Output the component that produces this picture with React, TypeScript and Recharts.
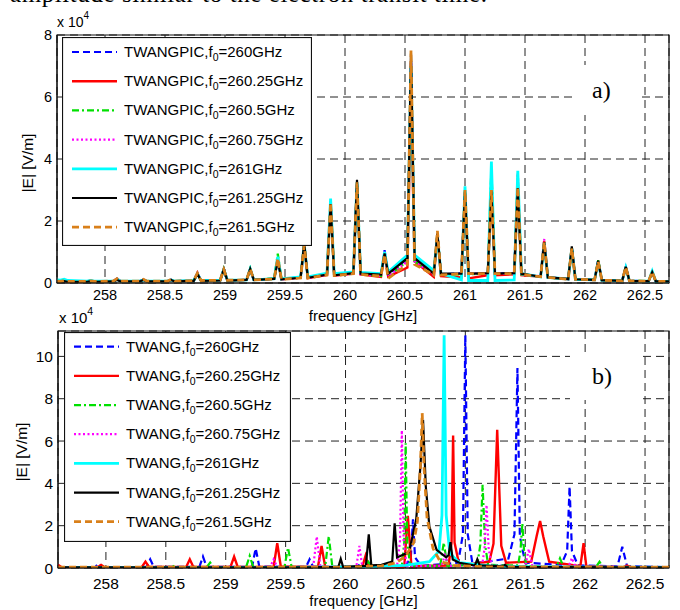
import React from 'react';
import { LineChart, Line, XAxis, YAxis, CartesianGrid, Legend, ReferenceArea } from 'recharts';

// ---------------- data ----------------
const freqTicks = [258, 258.5, 259, 259.5, 260, 260.5, 261, 261.5, 262, 262.5];
const eTicksA = [0, 2, 4, 6, 8];
const eTicksB = [0, 2, 4, 6, 8, 10];
const f0Labels = ['260', '260.25', '260.5', '260.75', '261', '261.25', '261.5'];

// panel a) frequency grid (GHz), values in 1e4 V/m
const freqPic = [257.6,
  257.63, 257.66, 257.69, 257.85, 257.88, 257.91, 258.07, 258.10, 258.13,
  258.29, 258.32, 258.35, 258.52, 258.55, 258.58, 258.74, 258.77, 258.80,
  258.96, 258.99, 259.02, 259.18, 259.21, 259.24, 259.41, 259.44, 259.47,
  259.63, 259.66, 259.69, 259.85, 259.88, 259.91, 260.07, 260.10, 260.13,
  260.30, 260.33, 260.36, 260.52, 260.55, 260.58, 260.74, 260.77, 260.80,
  260.97, 261.00, 261.03, 261.19, 261.22, 261.25, 261.41, 261.44, 261.47,
  261.63, 261.66, 261.69, 261.86, 261.89, 261.92, 262.08, 262.11, 262.14,
  262.31, 262.34, 262.37, 262.53, 262.56, 262.59,
  262.7];

const pic260 = [0.08,
  0.07, 0.1, 0.06, 0.05, 0.08, 0.05, 0.06, 0.14, 0.06,
  0.06, 0.1, 0.06, 0.06, 0.1, 0.06, 0.08, 0.3, 0.08,
  0.09, 0.45, 0.09, 0.1, 0.44, 0.1, 0.14, 0.8, 0.13,
  0.18, 1.2, 0.17, 0.28, 2.6, 0.26, 0.32, 3.2, 0.3,
  0.24, 1.06, 0.24, 0.8, 7.2, 0.8, 0.28, 1.55, 0.27,
  0.32, 2.95, 0.3, 0.32, 3.1, 0.3, 0.32, 3.2, 0.28,
  0.2, 1.3, 0.18, 0.13, 1.1, 0.12, 0.1, 0.7, 0.09,
  0.07, 0.5, 0.07, 0.06, 0.34, 0.05,
  0.05];
const pic26025 = [0.06,
  0.06, 0.09, 0.05, 0.05, 0.08, 0.05, 0.06, 0.13, 0.06,
  0.06, 0.11, 0.05, 0.05, 0.1, 0.05, 0.08, 0.31, 0.08,
  0.09, 0.44, 0.09, 0.1, 0.45, 0.1, 0.14, 0.82, 0.12,
  0.17, 1.22, 0.16, 0.26, 2.58, 0.24, 0.3, 3.18, 0.28,
  0.2, 0.95, 0.2, 0.5, 6.0, 0.7, 0.2, 1.55, 0.22,
  0.18, 2.9, 0.15, 0.25, 3.05, 0.25, 0.28, 3.15, 0.25,
  0.2, 1.36, 0.18, 0.12, 1.12, 0.12, 0.1, 0.72, 0.09,
  0.07, 0.52, 0.07, 0.06, 0.35, 0.05,
  0.05];
const pic2605 = [0.07,
  0.06, 0.1, 0.06, 0.05, 0.07, 0.05, 0.06, 0.13, 0.06,
  0.06, 0.1, 0.06, 0.06, 0.11, 0.06, 0.08, 0.3, 0.08,
  0.09, 0.46, 0.09, 0.1, 0.47, 0.1, 0.15, 0.95, 0.13,
  0.18, 1.25, 0.17, 0.27, 2.62, 0.25, 0.3, 3.2, 0.28,
  0.22, 0.98, 0.22, 0.7, 7.0, 0.7, 0.26, 1.58, 0.26,
  0.28, 2.98, 0.28, 0.3, 3.7, 0.3, 0.3, 3.5, 0.28,
  0.2, 1.32, 0.18, 0.12, 1.12, 0.12, 0.1, 0.74, 0.09,
  0.07, 0.52, 0.07, 0.06, 0.34, 0.05,
  0.05];
const pic26075 = [0.08,
  0.07, 0.11, 0.06, 0.05, 0.08, 0.05, 0.06, 0.14, 0.06,
  0.06, 0.12, 0.06, 0.06, 0.11, 0.06, 0.08, 0.34, 0.08,
  0.09, 0.45, 0.09, 0.1, 0.46, 0.1, 0.14, 0.78, 0.12,
  0.17, 1.22, 0.16, 0.27, 2.68, 0.25, 0.3, 3.22, 0.28,
  0.22, 1.0, 0.22, 0.7, 7.1, 0.7, 0.26, 1.6, 0.26,
  0.3, 3.0, 0.3, 0.3, 3.3, 0.3, 0.3, 3.55, 0.28,
  0.22, 1.42, 0.2, 0.12, 1.12, 0.12, 0.1, 0.72, 0.09,
  0.07, 0.5, 0.07, 0.06, 0.36, 0.05,
  0.05];
const pic261 = [0.1,
  0.09, 0.12, 0.08, 0.06, 0.08, 0.06, 0.06, 0.12, 0.06,
  0.06, 0.1, 0.06, 0.06, 0.1, 0.06, 0.08, 0.3, 0.08,
  0.09, 0.44, 0.09, 0.1, 0.45, 0.1, 0.14, 0.85, 0.13,
  0.2, 1.25, 0.2, 0.32, 2.72, 0.3, 0.36, 3.25, 0.34,
  0.3, 1.0, 0.35, 0.9, 7.0, 0.9, 0.4, 1.5, 0.3,
  0.1, 3.12, 0.08, 0.08, 3.92, 0.08, 0.1, 3.62, 0.3,
  0.2, 1.3, 0.18, 0.13, 1.12, 0.12, 0.1, 0.7, 0.09,
  0.07, 0.5, 0.07, 0.06, 0.38, 0.05,
  0.05];
const pic26125 = [0.04,
  0.04, 0.06, 0.04, 0.04, 0.06, 0.04, 0.05, 0.1, 0.05,
  0.05, 0.1, 0.05, 0.05, 0.1, 0.05, 0.07, 0.3, 0.07,
  0.08, 0.44, 0.08, 0.1, 0.45, 0.1, 0.13, 0.72, 0.12,
  0.17, 1.3, 0.17, 0.27, 2.55, 0.25, 0.32, 3.33, 0.3,
  0.27, 0.95, 0.3, 0.8, 7.4, 0.8, 0.3, 1.6, 0.3,
  0.3, 2.95, 0.3, 0.32, 2.98, 0.3, 0.32, 3.06, 0.3,
  0.2, 1.32, 0.18, 0.13, 1.18, 0.12, 0.1, 0.72, 0.09,
  0.07, 0.52, 0.07, 0.06, 0.35, 0.05,
  0.05];
const pic2615 = [0.06,
  0.05, 0.08, 0.05, 0.05, 0.07, 0.05, 0.06, 0.14, 0.06,
  0.06, 0.12, 0.06, 0.06, 0.12, 0.06, 0.08, 0.32, 0.08,
  0.09, 0.44, 0.09, 0.1, 0.46, 0.1, 0.13, 0.8, 0.12,
  0.16, 1.22, 0.16, 0.26, 2.6, 0.24, 0.3, 3.25, 0.28,
  0.22, 0.92, 0.15, 0.6, 7.5, 0.6, 0.26, 1.68, 0.26,
  0.3, 3.0, 0.3, 0.3, 3.0, 0.3, 0.3, 3.1, 0.28,
  0.2, 1.33, 0.18, 0.12, 1.12, 0.12, 0.1, 0.7, 0.09,
  0.07, 0.52, 0.07, 0.06, 0.36, 0.05,
  0.05];

// panel b) each series has its own frequency samples
const twang260F = [257.6, 257.91, 257.94, 257.97, 258.34, 258.37, 258.40, 258.78, 258.81, 258.84,
  259.22, 259.25, 259.28, 259.67, 259.70, 259.73, 260.10, 260.13, 260.16, 260.50, 260.545, 260.563,
  260.58, 260.63, 260.94, 260.98, 261.0, 261.02, 261.06, 261.36, 261.41, 261.435, 261.455, 261.50,
  261.80, 261.85, 261.87, 261.89, 261.94, 262.27, 262.31, 262.35, 262.7];
const twang260V = [0.04, 0.04, 0.22, 0.04, 0.05, 0.41, 0.05, 0.05, 0.54, 0.06,
  0.06, 0.93, 0.07, 0.05, 0.41, 0.05, 0.05, 0.25, 0.05, 0.08, 0.5, 2.3,
  0.5, 0.1, 0.25, 1.6, 11.0, 1.6, 0.2, 0.45, 1.6, 9.45, 1.5, 0.25,
  0.15, 0.8, 3.85, 0.8, 0.12, 0.08, 1.0, 0.08, 0.04];

const twang26025F = [257.6, 257.63, 257.93, 257.96, 257.99, 258.30, 258.33, 258.36, 258.67, 258.70,
  258.73, 259.04, 259.07, 259.10, 259.40, 259.43, 259.46, 259.77, 259.80, 259.83, 260.14, 260.167,
  260.19, 260.49, 260.52, 260.55, 260.86, 260.885, 260.898, 260.91, 260.95, 261.20, 261.235,
  261.266, 261.30, 261.34, 261.55, 261.595, 261.624, 261.65, 261.70, 261.96, 261.987, 262.01,
  262.32, 262.35, 262.38, 262.7];
const twang26025V = [0.15, 0.04, 0.04, 0.15, 0.04, 0.05, 0.3, 0.05, 0.05, 0.41,
  0.05, 0.05, 0.54, 0.05, 0.06, 1.17, 0.06, 0.06, 1.04, 0.06, 0.05, 0.57,
  0.05, 0.06, 2.46, 0.08, 0.12, 1.2, 6.26, 1.2, 0.12, 0.3, 1.15,
  6.53, 1.05, 0.25, 0.3, 1.5, 2.22, 1.5, 0.3, 0.08, 1.17, 0.08,
  0.04, 0.12, 0.04, 0.04];

const twang2605F = [257.6, 258.52, 258.55, 258.58, 258.84, 258.87, 258.90, 259.17, 259.20, 259.23,
  259.49, 259.52, 259.55, 259.83, 259.86, 259.89, 260.16, 260.19, 260.22, 260.47, 260.49, 260.502,
  260.515, 260.54, 260.79, 260.82, 260.85, 261.10, 261.125, 261.144, 261.165, 261.19, 261.44,
  261.46, 261.476, 261.49, 261.51, 261.76, 261.79, 261.82, 262.09, 262.12, 262.15, 262.7];
const twang2605V = [0.03, 0.03, 0.12, 0.03, 0.03, 0.26, 0.03, 0.04, 0.57, 0.04,
  0.04, 0.96, 0.04, 0.05, 1.5, 0.05, 0.05, 0.3, 0.05, 0.1, 1.2, 5.9,
  1.2, 0.1, 0.1, 1.2, 0.1, 0.15, 1.1, 3.93, 1.1, 0.15, 0.12,
  0.8, 2.11, 0.8, 0.1, 0.05, 0.46, 0.05, 0.04, 0.3, 0.04, 0.03];

const twang26075F = [257.6, 259.02, 259.05, 259.08, 259.37, 259.40, 259.43, 259.73, 259.76, 259.79,
  260.09, 260.116, 260.14, 260.43, 260.455, 260.47, 260.485, 260.51, 260.80, 260.83, 260.86,
  261.14, 261.16, 261.177, 261.195, 261.22, 261.50, 261.53, 261.56, 261.86, 261.89, 261.92,
  262.22, 262.25, 262.28, 262.7];
const twang26075V = [0.03, 0.03, 0.1, 0.03, 0.04, 0.41, 0.04, 0.05, 1.48, 0.05,
  0.05, 1.04, 0.05, 0.1, 1.3, 6.5, 1.3, 0.1, 0.1, 0.6, 0.1,
  0.12, 0.9, 2.98, 0.9, 0.12, 0.08, 0.9, 0.08, 0.05, 0.47, 0.05,
  0.03, 0.12, 0.03, 0.03];

const twang261F = [257.6, 259.5, 260.2, 260.5, 260.7, 260.78, 260.805, 260.823, 260.84, 260.87, 260.95, 261.2, 261.6, 262.7];
const twang261V = [0.02, 0.03, 0.06, 0.12, 0.3, 0.8, 2.5, 11.0, 2.5, 0.7, 0.25, 0.1, 0.05, 0.03];

const twang26125F = [257.6, 259.7, 259.94, 259.96, 259.98, 260.17, 260.194, 260.215, 260.30, 260.39,
  260.41, 260.43, 260.53, 260.59, 260.625, 260.647, 260.67, 260.70, 260.76, 260.84,
  260.86, 260.876, 260.895, 260.95, 261.08, 261.10, 261.12, 261.31, 261.33, 261.35,
  261.6, 262.7];
const twang26125V = [0.03, 0.03, 0.05, 0.43, 0.05, 0.1, 1.59, 0.12, 0.15, 0.3,
  2.11, 0.5, 0.75, 2.3, 4.8, 7.0, 3.85, 1.96, 0.86, 0.5,
  0.6, 1.22, 0.4, 0.25, 0.12, 0.41, 0.12, 0.08, 0.15, 0.06,
  0.04, 0.03];

const twang2615F = [257.6, 260.0, 260.3, 260.42, 260.5, 260.57, 260.60, 260.625, 260.64, 260.655, 260.68, 260.73, 260.79, 260.9, 261.2, 262.7];
const twang2615V = [0.04, 0.04, 0.1, 0.24, 0.55, 1.2, 2.2, 4.8, 7.32, 4.8, 2.4, 0.93, 0.31, 0.12, 0.05, 0.04];

// ---------------- styles ----------------
const FONT = "'Liberation Sans', Arial, Helvetica, sans-serif";
const SERIF = "'Liberation Serif', 'Times New Roman', serif";
const STYLES = [
  { color: '#0000ff', width: 2.2, dash: '7 4' },
  { color: '#ff0000', width: 2.4, dash: undefined },
  { color: '#00e000', width: 2.2, dash: '7 3 2 3' },
  { color: '#ff00ff', width: 2.2, dash: '2 2.5' },
  { color: '#00ffff', width: 2.8, dash: undefined },
  { color: '#000000', width: 2.2, dash: undefined },
  { color: '#d9801a', width: 2.8, dash: '7 4' },
];

const pts = (f: number[], v: number[]) => f.map((x, i) => ({ f: x, v: v[i] }));
const picSeries = [pic260, pic26025, pic2605, pic26075, pic261, pic26125, pic2615].map((v) => pts(freqPic, v));
const twangSeries = [
  pts(twang260F, twang260V),
  pts(twang26025F, twang26025V),
  pts(twang2605F, twang2605V),
  pts(twang26075F, twang26075V),
  pts(twang261F, twang261V),
  pts(twang26125F, twang26125V),
  pts(twang2615F, twang2615V),
];

function LegendBox({ prefix, w, h, rowTop, gap }: any) {
  return (
    <svg width={w} height={h} style={{ display: 'block' }}>
      <rect x={0.5} y={0.5} width={w - 1} height={h - 1} fill="#fff" stroke="#111" strokeWidth={1.2} />
      {f0Labels.map((lab, i) => {
        const cy = rowTop + i * gap;
        const s = STYLES[i];
        return (
          <g key={i}>
            <line x1={10} x2={55} y1={cy} y2={cy} stroke={s.color} strokeWidth={s.width} strokeDasharray={s.dash} />
            <text x={62} y={cy + 5} fontSize={15} fontFamily={FONT} fill="#000">
              {prefix},f<tspan dy={4} fontSize={10.5}>0</tspan>
              <tspan dy={-4}>={lab}GHz</tspan>
            </text>
          </g>
        );
      })}
    </svg>
  );
}

function Panel({ series, prefix, yMax, yTicks, height, margin, yWidth, tickFont, tickMarginX, leg }: any) {
  return (
    <LineChart width={680} height={height} margin={margin}>
      <CartesianGrid stroke="#222" strokeDasharray="8 5" strokeWidth={1} />
      <XAxis
        type="number"
        dataKey="f"
        domain={[257.6, 262.7]}
        ticks={freqTicks}
        interval={0}
        allowDataOverflow
        tickSize={0}
        tickMargin={tickMarginX}
        height={30}
        axisLine={{ stroke: '#111' }}
        tick={{ fill: '#000', fontSize: tickFont, fontFamily: FONT }}
        label={{ value: 'frequency [GHz]', position: 'bottom', offset: -3, fill: '#000', fontSize: 15, fontFamily: FONT }}
      />
      <YAxis
        type="number"
        domain={[0, yMax]}
        ticks={yTicks}
        interval={0}
        allowDataOverflow
        width={yWidth}
        tickSize={0}
        tickMargin={5}
        axisLine={{ stroke: '#111' }}
        tick={{ fill: '#000', fontSize: tickFont, fontFamily: FONT }}
      />
      <ReferenceArea x1={257.6} x2={262.7} y1={0} y2={yMax} fill="none" stroke="#111" strokeWidth={1.2} ifOverflow="visible" />
      {series.map((d: any, i: number) => (
        <Line
          key={i}
          data={d}
          dataKey="v"
          type="linear"
          name={`${prefix},f0=${f0Labels[i]}GHz`}
          stroke={STYLES[i].color}
          strokeWidth={STYLES[i].width}
          strokeDasharray={STYLES[i].dash}
          dot={false}
          activeDot={false}
          isAnimationActive={false}
        />
      ))}
      <Legend
        layout="vertical"
        align="center"
        verticalAlign="middle"
        wrapperStyle={{ left: leg.left, top: leg.top, width: leg.w, height: leg.h }}
        content={() => <LegendBox prefix={prefix} w={leg.w} h={leg.h} rowTop={leg.rowTop} gap={leg.gap} />}
      />
    </LineChart>
  );
}

export default function App() {
  return (
    <div style={{ position: 'absolute', left: 0, top: 0, width: 680, height: 610, background: '#fff', overflow: 'hidden' }}>
      <div style={{ position: 'absolute', left: 0, top: 0 }}>
        <Panel
          series={picSeries}
          prefix="TWANGPIC"
          yMax={8}
          yTicks={eTicksA}
          height={332}
          margin={{ top: 35, right: 11, bottom: 19, left: 0 }}
          yWidth={57}
          tickFont={14.5}
          tickMarginX={7}
          leg={{ left: 62, top: 37, w: 250, h: 209, rowTop: 15, gap: 29.2 }}
        />
      </div>
      <div style={{ position: 'absolute', left: 0, top: 300 }}>
        <Panel
          series={twangSeries}
          prefix="TWANG"
          yMax={11.2}
          yTicks={eTicksB}
          height={310}
          margin={{ top: 31, right: 11, bottom: 12, left: 0 }}
          yWidth={58}
          tickFont={15.5}
          tickMarginX={10}
          leg={{ left: 64, top: 32, w: 227, h: 210, rowTop: 14.7, gap: 29.17 }}
        />
      </div>
      <svg width={680} height={610} style={{ position: 'absolute', left: 0, top: 0, pointerEvents: 'none' }}>
        <text x={10} y={2} fontFamily={SERIF} fontSize={25} textLength={477} lengthAdjust="spacing" fill="#000">
          amplitude similar to the electron transit time.
        </text>
        <text x={57} y={27} fontFamily={FONT} fontSize={14} fill="#000">
          x 10<tspan dy={-8} fontSize={10}>4</tspan>
        </text>
        <text x={59} y={323} fontFamily={FONT} fontSize={15} fill="#000">
          x 10<tspan dy={-8} fontSize={10.5}>4</tspan>
        </text>
        <text x={27} y={163} transform="rotate(-90 27 163)" textAnchor="middle" dominantBaseline="central" fontFamily={FONT} fontSize={15.5} fill="#000">
          |E| [V/m]
        </text>
        <text x={21} y={452} transform="rotate(-90 21 452)" textAnchor="middle" dominantBaseline="central" fontFamily={FONT} fontSize={15.5} fill="#000">
          |E| [V/m]
        </text>
        <rect x={573} y={65} width={69} height={50} fill="#fff" />
        <text x={592} y={98} fontFamily={SERIF} fontSize={24} fill="#000">a)</text>
        <rect x={570} y={354} width={72} height={46} fill="#fff" />
        <text x={592} y={384} fontFamily={SERIF} fontSize={24} fill="#000">b)</text>
      </svg>
    </div>
  );
}
